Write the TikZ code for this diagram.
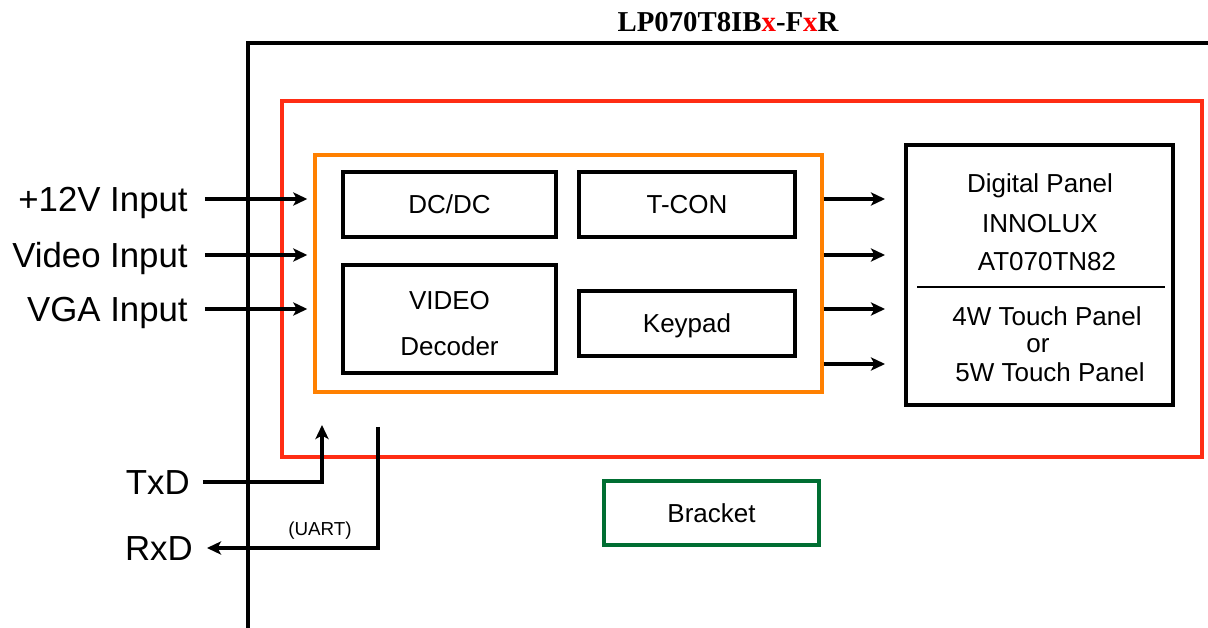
\documentclass[tikz,border=0pt]{standalone}
\usepackage{fontspec}
\setmainfont{Liberation Sans}
\newfontfamily\titlefont{Liberation Serif}
\usetikzlibrary{arrows.meta}
\definecolor{frameRed}{RGB}{255,45,20}
\definecolor{boardOrange}{RGB}{255,128,0}
\definecolor{bracketGreen}{RGB}{0,110,50}
\tikzset{
>={Stealth[length=8pt,width=7.5pt,inset=2pt]},
  block/.style={
    rectangle,
    draw=black, line width=1.8pt,
    minimum width=4.3cm,
    minimum height=1.3cm,
    inner sep=0pt,
    font=\fontsize{14.8}{18}\selectfont},
  wire/.style={->, line width=2.3pt},
  portlabel/.style={
    anchor=east, inner sep=0pt,
    text height=14.3pt, text depth=0pt,
    font=\fontsize{19.8}{24}\selectfont},
  paneltext/.style={
    inner sep=0pt,
    text height=10.7pt, text depth=0pt,
    font=\fontsize{14.8}{18}\selectfont},
}
\begin{document}
\begin{tikzpicture}[x=0.02cm,y=-0.02cm]
\useasboundingbox (0,0) rectangle (1208,628);
% housing
\node[font=\titlefont\bfseries\fontsize{16.4}{20}\selectfont] (title) at (728,22) {LP070T8IB\textcolor{red}{x}-F\textcolor{red}{x}R};
\coordinate (hbot) at (248,630);
\coordinate (hcorner) at (248,43);
\coordinate (hright) at (1210,43);
\draw[line width=2.4pt] (hbot) -- (hcorner) -- (hright);
% boards
\node[draw=frameRed, line width=2.3pt, minimum width=18.42cm, minimum height=7.12cm] (lcm) at (742,279) {};
\node[draw=boardOrange, line width=2pt, minimum width=10.14cm, minimum height=4.74cm] (ctrl) at (568.5,273.5) {};
\node[block, minimum width=4.26cm] (dcdc) at (449.5,204.5) {DC/DC};
\node[block, minimum width=4.32cm] (tcon) at (687,204.5) {T-CON};
\node[block, minimum width=4.26cm, minimum height=2.16cm, align=center, text height=41.3pt, text depth=0pt, font=\fontsize{14.8}{26}\selectfont] (video) at (449.5,319) {VIDEO\\Decoder};
\node[block, minimum width=4.32cm, text height=10.7pt, text depth=0pt] (keypad) at (687,323.5) {Keypad};
\node[block, line width=2.3pt, minimum width=5.34cm, minimum height=5.2cm] (panel) at (1039.5,275) {};
\draw[line width=0.9pt] ([xshift=0.26cm]panel.west |- 0,287) -- ([xshift=-0.2cm]panel.east |- 0,287);
\foreach \x/\y/\txt [count=\i] in {1040/183/Digital Panel, 1040/223/INNOLUX, 1047/261.5/AT070TN82, 1047/316/4W Touch Panel, 1038/343.6/or, 1050/372/5W Touch Panel}
    \node[paneltext] (ptxt\i) at (\x,\y) {\txt};
\node[block, draw=bracketGreen, line width=2.3pt, minimum width=4.3cm, minimum height=1.28cm] (bracket) at (711.5,513) {Bracket};
% inputs
\foreach \name/\y/\txt in {pwr/199/+12V Input, cvbs/255/Video Input, vga/309/VGA Input}{
    \node[portlabel] (\name) at (188,\y) {\txt};
    \draw[wire, shorten <=0.34cm, shorten >=0.12cm] (\name.east) -- (ctrl.west |- \name.east);
    }
% outputs
\foreach \y in {199,255,309,364}
    \draw[wire, shorten >=0.38cm] (ctrl.east |- 0,\y) -- (panel.west |- 0,\y);
% uart
\node[portlabel] (txd) at (190,482) {TxD};
\node[portlabel] (rxd) at (193,548) {RxD};
\coordinate (txin) at (322,425);
\coordinate (rxout) at (378,427);
\draw[wire, shorten <=0.26cm] (txd.east) -| (txin);
\draw[wire, shorten >=0.28cm] (rxout) |- (rxd.east);
\node[inner sep=0pt, font=\fontsize{10.7}{13}\selectfont] (uart) at (320,531) {(UART)};
\end{tikzpicture}
\end{document}
